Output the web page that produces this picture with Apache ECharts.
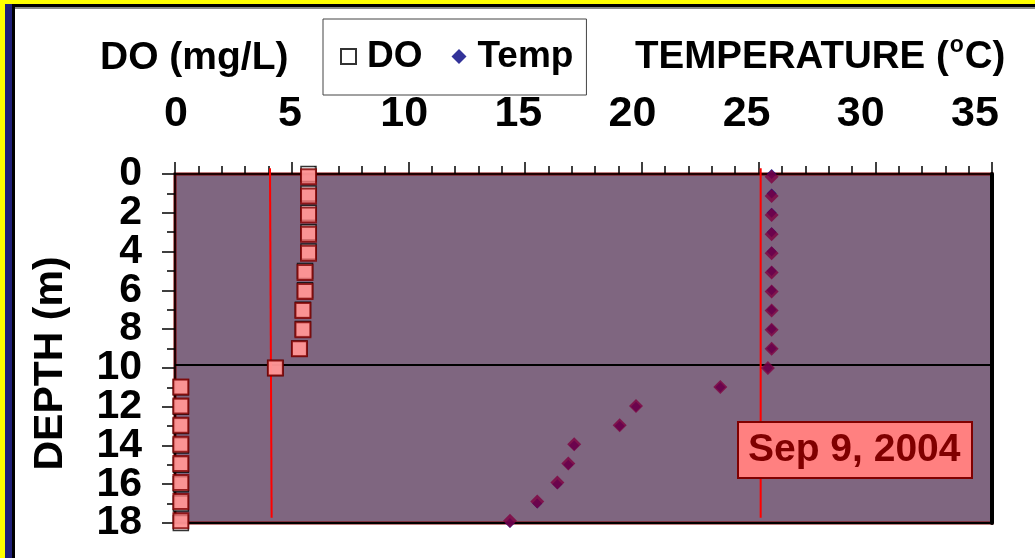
<!DOCTYPE html>
<html>
<head>
<meta charset="utf-8">
<script src="https://cdn.jsdelivr.net/npm/echarts@6/dist/echarts.min.js"></script>
<style>
html,body{margin:0;padding:0;background:#fff;}
#chart{width:1035px;height:558px;}
</style>
</head>
<body>
<div id="chart"></div>
<script>
// ---- data ----
var depths = [0,1,2,3,4,5,6,7,8,9,10,11,12,13,14,15,16,17,18];
var doValues = [5.72,5.72,5.72,5.72,5.72,5.57,5.57,5.48,5.48,5.33,4.3,0.25,0.25,0.25,0.25,0.25,0.25,0.25,0.25];
var tempValues = [25.56,25.56,25.56,25.56,25.56,25.56,25.56,25.56,25.56,25.56,25.4,23.36,19.75,19.05,17.1,16.85,16.38,15.52,14.35];
var thermoclineDepth = 9.85;
var doLine = [[4.07,-0.3],[4.14,17.73]];
var tempLine = [[25.09,-0.3],[25.09,17.73]];
var xTickLabels = [0,5,10,15,20,25,30,35];
var yTickLabelsA = [0,4,8,12,16];
var yTickLabelsB = [2,6,10,14,18];
var xTicks = {min:0, max:35, interval:5};
var yTicks = {min:0, max:18, interval:2};
var dateLabel = 'Sep 9, 2004';

var FONT = '"Liberation Sans", Arial, sans-serif';
function pairs(xs){ return depths.map(function(d,i){ return [xs[i], d]; }); }
function yLabelAxis(values){
  return {type:'value', inverse:true, position:'left', min:yTicks.min, max:yTicks.max,
    axisLine:{show:false}, axisTick:{show:false}, splitLine:{show:false},
    axisLabel:{show:true, customValues:values, showMinLabel:true, showMaxLabel:true,
               fontSize:41, fontWeight:'bold', color:'#000', margin:33, fontFamily:FONT}};
}

var chart = echarts.init(document.getElementById('chart'), null, {renderer:'canvas'});
chart.setOption({
  animation:false,
  backgroundColor:'#ffffff',
  textStyle:{fontFamily:FONT},
  graphic:[
    {type:'rect', shape:{x:0,y:0,width:1035,height:4}, style:{fill:'#ffff00'}, z:100},
    {type:'rect', shape:{x:5,y:4,width:1030,height:3}, style:{fill:'#000000'}, z:100},
    {type:'rect', shape:{x:5,y:7,width:1030,height:2}, style:{fill:'#888888'}, z:100},
    {type:'rect', shape:{x:0,y:0,width:5,height:558}, style:{fill:'#ffff00'}, z:101},
    {type:'rect', shape:{x:5,y:4,width:7,height:554}, style:{fill:'#20207a'}, z:101},
    {type:'rect', shape:{x:12,y:4,width:3,height:554}, style:{fill:'#000000'}, z:101}
  ],
  title:[
    {text:'DO (mg/L)', left:100, top:39, padding:0,
     textStyle:{fontSize:39, fontWeight:'bold', color:'#000', fontFamily:FONT}},
    {text:'{a|TEMPERATURE (}{b|o}{a|C)}', left:635, top:34, padding:0,
     textStyle:{rich:{
       a:{fontSize:38.5, fontWeight:'bold', color:'#000', fontFamily:FONT},
       b:{fontSize:23, fontWeight:'bold', color:'#000', fontFamily:FONT, padding:[0,1,24,1]}
     }}},
    {text:dateLabel, left:738, top:422, padding:[9,12,8,10],
     backgroundColor:'#ff8080', borderColor:'#800000', borderWidth:2,
     textStyle:{fontSize:39, fontWeight:'bold', color:'#800000', fontFamily:FONT}}
  ],
  legend:{
    left:323, top:19, orient:'horizontal',
    padding:[19,13,20,17], itemGap:29, itemWidth:15, itemHeight:15,
    backgroundColor:'#ffffff', borderColor:'#444', borderWidth:1,
    selectedMode:false,
    textStyle:{fontSize:37, fontWeight:'bold', color:'#000', fontFamily:FONT, padding:[0,0,0,6]},
    data:[{name:'DO', icon:'rect'},{name:'Temp', icon:'diamond'}]
  },
  grid:{left:175, top:174, width:817, height:349, show:true,
        backgroundColor:'#7f6680', borderColor:'#800000', borderWidth:3},
  xAxis:[
    {type:'value', position:'top', min:xTicks.min, max:xTicks.max, interval:xTicks.interval,
     axisLine:{show:true, lineStyle:{color:'#000', width:1.5}},
     axisTick:{show:true, length:12, lineStyle:{color:'#000', width:1.5}},
     minorTick:{show:true, splitNumber:5, length:8, lineStyle:{color:'#000', width:1.5}},
     splitLine:{show:false}, minorSplitLine:{show:false},
     axisLabel:{show:false}},
    {type:'value', position:'bottom', min:xTicks.min, max:xTicks.max,
     axisLine:{show:true, onZero:false, lineStyle:{color:'#000', width:2}},
     axisTick:{show:false}, axisLabel:{show:false}, splitLine:{show:false}},
    {type:'value', position:'top', min:-0.04, max:35.75,
     axisLine:{show:false}, axisTick:{show:false}, splitLine:{show:false},
     axisLabel:{show:true, customValues:xTickLabels, showMinLabel:true, showMaxLabel:true,
                fontSize:43, fontWeight:'bold', color:'#000', margin:38, fontFamily:FONT}}
  ],
  yAxis:[
    {type:'value', inverse:true, position:'left', min:yTicks.min, max:yTicks.max, interval:yTicks.interval,
     name:'DEPTH (m)', nameLocation:'middle', nameGap:104, nameRotate:90,
     nameTextStyle:{fontSize:41, fontWeight:'bold', color:'#000', fontFamily:FONT, padding:[0,30,0,0]},
     axisLine:{show:true, onZero:false, lineStyle:{color:'#000', width:1.5}},
     axisTick:{show:true, length:13, lineStyle:{color:'#000', width:1.5}},
     minorTick:{show:true, splitNumber:2, length:8, lineStyle:{color:'#000', width:1.5}},
     splitLine:{show:false}, minorSplitLine:{show:false},
     axisLabel:{show:false}},
    {type:'value', inverse:true, position:'right', min:-0.15, max:18.12,
     axisLine:{show:true, onZero:false, lineStyle:{color:'#000', width:4}},
     axisTick:{show:false}, axisLabel:{show:false}, splitLine:{show:false}},
    yLabelAxis(yTickLabelsA),
    yLabelAxis(yTickLabelsB)
  ],
  series:[
    {name:'DO', type:'scatter', xAxisIndex:0, yAxisIndex:0, symbol:'rect', symbolSize:15,
     itemStyle:{color:'#ffffff', borderColor:'#000000', borderWidth:1.5}, data:pairs(doValues), z:3},
    {name:'DO profile', type:'scatter', xAxisIndex:0, yAxisIndex:1, symbol:'rect', symbolSize:15,
     itemStyle:{color:'#ff8080', borderColor:'#800000', borderWidth:2}, data:pairs(doValues), z:4},
    {name:'Temp', type:'scatter', xAxisIndex:0, yAxisIndex:0, symbol:'diamond', symbolSize:10,
     itemStyle:{color:'#000080'}, data:pairs(tempValues), z:3},
    {name:'Temp profile', type:'scatter', xAxisIndex:0, yAxisIndex:1, symbol:'diamond', symbolSize:14,
     itemStyle:{color:'#800040'}, data:pairs(tempValues), z:4},
    {name:'thermocline', type:'line', xAxisIndex:0, yAxisIndex:0, symbol:'none', silent:true,
     lineStyle:{color:'#000', width:2}, data:[[xTicks.min,thermoclineDepth],[xTicks.max,thermoclineDepth]], z:2},
    {name:'DO limit', type:'line', xAxisIndex:0, yAxisIndex:0, symbol:'none', clip:false, silent:true,
     lineStyle:{color:'#ff0000', width:2}, data:doLine, z:2},
    {name:'Temp limit', type:'line', xAxisIndex:0, yAxisIndex:0, symbol:'none', clip:false, silent:true,
     lineStyle:{color:'#ff0000', width:2}, data:tempLine, z:2}
  ]
});
</script>
</body>
</html>
